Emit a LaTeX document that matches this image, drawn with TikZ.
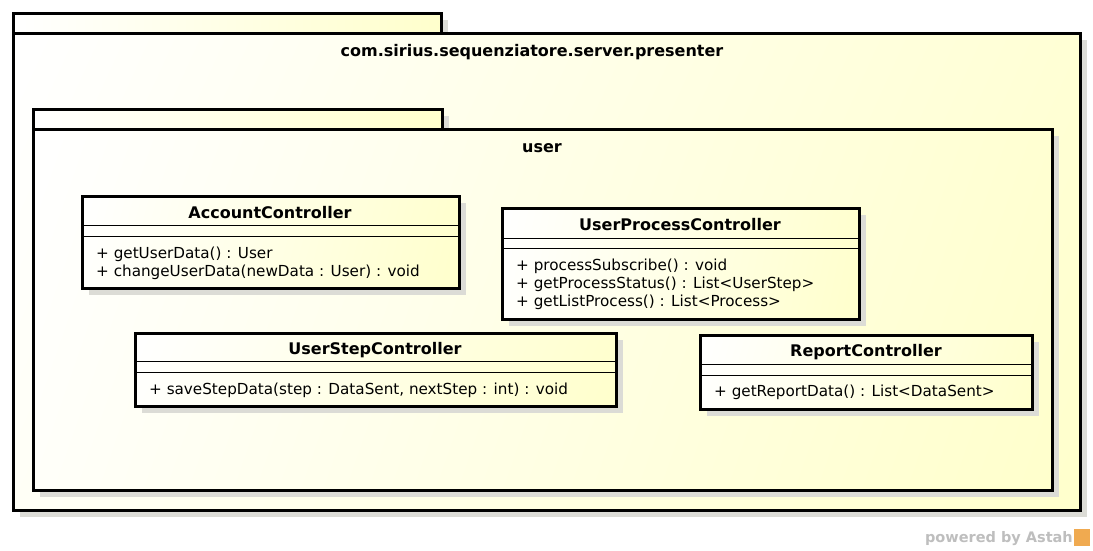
\documentclass[tikz,border=0pt]{standalone}
\usepackage{fontspec}
\setmainfont{DejaVu Sans}
\definecolor{pkgyellow}{RGB}{255,255,204}
\definecolor{shadowgray}{RGB}{220,220,214}
\definecolor{astahgray}{RGB}{190,190,190}
\definecolor{astahorange}{RGB}{240,170,80}
% diagonal white -> pale yellow shadings (top-left to bottom-right), one per aspect ratio
\pgfdeclarefunctionalshading{diagA}{\pgfpoint{0bp}{0bp}}{\pgfpoint{100bp}{100bp}}{}{
  75 exch sub 50 div 0.17 mul exch 25 sub 50 div 0.83 mul add
  0.2 mul 1 exch sub 1 1 3 -1 roll}
\pgfdeclarefunctionalshading{diagB}{\pgfpoint{0bp}{0bp}}{\pgfpoint{100bp}{100bp}}{}{
  75 exch sub 50 div 0.11 mul exch 25 sub 50 div 0.89 mul add
  0.2 mul 1 exch sub 1 1 3 -1 roll}
\pgfdeclarefunctionalshading{diagC}{\pgfpoint{0bp}{0bp}}{\pgfpoint{100bp}{100bp}}{}{
  75 exch sub 50 div 0.06 mul exch 25 sub 50 div 0.94 mul add
  0.2 mul 1 exch sub 1 1 3 -1 roll}
\tikzset{
  tabfill/.style={left color=white, right color=pkgyellow},
  shadowbox/.style={fill=shadowgray, draw=none},
  frame/.style={draw=black, line width=3pt},
  sepline/.style={draw=black, line width=1pt},
  pkgtitle/.style={inner sep=0pt, anchor=base, font=\fontsize{16}{19}\bfseries\selectfont},
  clsname/.style={inner sep=0pt, anchor=base, font=\fontsize{16}{19}\bfseries\selectfont},
  meth/.style={inner sep=0pt, anchor=base west, font=\fontsize{15.2}{18}\selectfont},
}
\begin{document}
\begin{tikzpicture}[x=1pt,y=-1pt]
\useasboundingbox (0,0) rectangle (1093,550);
\fill[white] (0,0) rectangle (1093,550);

% ---- outer package ----
\fill[shadowbox] (20,20) rectangle (448,40);
\fill[shadowbox] (20,40) rectangle (1087,517);
\path[tabfill] (13,13) rectangle (441,33);
\draw[frame] (13,13) rectangle (441,33);
\shade[shading=diagA] (13,33) rectangle (1080,510);
\draw[frame] (13,33) rectangle (1080,510);
\node[pkgtitle] (outer) at (532,56) {com.sirius.sequenziatore.server.presenter};

% ---- inner package ----
\fill[shadowbox] (40,116) rectangle (449,136);
\fill[shadowbox] (40,136) rectangle (1059,497);
\path[tabfill] (33,109) rectangle (442,129);
\draw[frame] (33,109) rectangle (442,129);
\shade[shading=diagB] (33,129) rectangle (1052,490);
\draw[frame] (33,129) rectangle (1052,490);
\node[pkgtitle] (inner) at (542,152) {user};

% ---- AccountController ----
\fill[shadowbox] (89,203) rectangle (466,295);
\shade[shading=diagC] (82,196) rectangle (459,288);
\draw[sepline] (82,225) -- (459,225);
\draw[sepline] (82,236) -- (459,236);
\draw[frame] (82,196) rectangle (459,288);
\node[clsname] (acc) at (270,218) {AccountController};
\node[meth] (acc1) at (96,258) {+ getUserData() : User};
\node[meth] (acc2) at (96,276) {+ changeUserData(newData : User) : void};

% ---- UserProcessController ----
\fill[shadowbox] (509,215) rectangle (866,326);
\shade[shading=diagC] (502,208) rectangle (859,319);
\draw[sepline] (502,238) -- (859,238);
\draw[sepline] (502,248) -- (859,248);
\draw[frame] (502,208) rectangle (859,319);
\node[clsname] (upc) at (680,230) {UserProcessController};
\node[meth] (upc1) at (516,270) {+ processSubscribe() : void};
\node[meth] (upc2) at (516,288) {+ getProcessStatus() : List<UserStep>};
\node[meth] (upc3) at (516,306) {+ getListProcess() : List<Process>};

% ---- UserStepController ----
\fill[shadowbox] (142,340) rectangle (623,413);
\shade[shading=diagC] (135,333) rectangle (616,406);
\draw[sepline] (135,361) -- (616,361);
\draw[sepline] (135,372) -- (616,372);
\draw[frame] (135,333) rectangle (616,406);
\node[clsname] (usc) at (375,354) {UserStepController};
\node[meth] (usc1) at (149,394) {+ saveStepData(step : DataSent, nextStep : int) : void};

% ---- ReportController ----
\fill[shadowbox] (707,342) rectangle (1039,416);
\shade[shading=diagC] (700,335) rectangle (1032,409);
\draw[sepline] (700,364) -- (1032,364);
\draw[sepline] (700,375) -- (1032,375);
\draw[frame] (700,335) rectangle (1032,409);
\node[clsname] (rep) at (866,356) {ReportController};
\node[meth] (rep1) at (714,396) {+ getReportData() : List<DataSent>};

% ---- powered by Astah ----
\node[inner sep=0pt, anchor=base east, text=astahgray, font=\fontsize{14.5}{17}\bfseries\selectfont] (pow) at (1073,542) {powered by Astah};
\fill[astahorange] (1074,529) rectangle (1090,546);
\end{tikzpicture}
\end{document}
